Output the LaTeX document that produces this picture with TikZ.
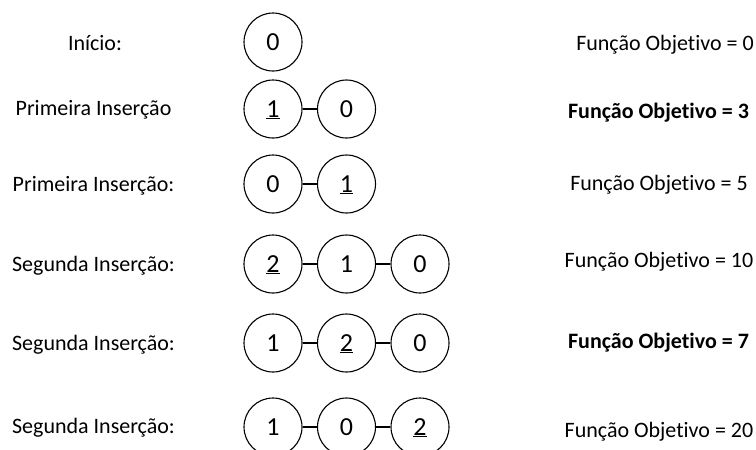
\documentclass[tikz,border=0pt]{standalone}
\usepackage{fontspec}
\setmainfont[Ligatures=NoCommon]{Carlito}
\begin{document}
\begin{tikzpicture}[x=1pt,y=-1pt,
  lbl/.style={font=\fontsize{22}{26}\selectfont, anchor=base, inner sep=0pt},
  blbl/.style={lbl, font=\fontsize{22}{26}\selectfont\bfseries},
  cnode/.style={circle, draw, line width=1.1pt, minimum size=58pt, inner sep=0pt,
    font=\fontsize{26}{30}\selectfont, text height=16.5pt, text depth=0pt},
  link/.style={line width=1.1pt}]
\useasboundingbox (0,0) rectangle (756,450);
\clip (0,0) rectangle (756,450);
% row 1
\node[lbl] (l1) at (95,50) {Início:};
\node[cnode] (a1) at (273,42) {0};
\node[lbl] (r1) at (665,50) {Função Objetivo = 0};
% row 2
\node[lbl] (l2) at (93.5,115) {Primeira Inserção};
\node[cnode] (a2) at (273,109) {\underline{1}};
\node[cnode] (b2) at (346.5,109) {0};
\node[blbl] (r2) at (658.5,118) {Função Objetivo = 3};
\draw[link] (a2) -- (b2);
% row 3
\node[lbl] (l3) at (93.5,191) {Primeira Inserção:};
\node[cnode] (a3) at (273,184) {0};
\node[cnode] (b3) at (346.5,184) {\underline{1}};
\node[lbl] (r3) at (659,190) {Função Objetivo = 5};
\draw[link] (a3) -- (b3);
% row 4
\node[lbl] (l4) at (93.5,271) {Segunda Inserção:};
\node[cnode] (a4) at (273,264) {\underline{2}};
\node[cnode] (b4) at (346.5,264) {1};
\node[cnode] (c4) at (420,264) {0};
\node[lbl] (r4) at (659,267) {Função Objetivo = 10};
\draw[link] (a4) -- (b4);
\draw[link] (b4) -- (c4);
% row 5
\node[lbl] (l5) at (93.5,350) {Segunda Inserção:};
\node[cnode] (a5) at (273,343) {1};
\node[cnode] (b5) at (346.5,343) {\underline{2}};
\node[cnode] (c5) at (420,343) {0};
\node[blbl] (r5) at (658.5,348) {Função Objetivo = 7};
\draw[link] (a5) -- (b5);
\draw[link] (b5) -- (c5);
% row 6
\node[lbl] (l6) at (93.5,433) {Segunda Inserção:};
\node[cnode] (a6) at (273,427) {1};
\node[cnode] (b6) at (346.5,427) {0};
\node[cnode] (c6) at (420,427) {\underline{2}};
\node[lbl] (r6) at (659,437) {Função Objetivo = 20};
\draw[link] (a6) -- (b6);
\draw[link] (b6) -- (c6);
\end{tikzpicture}
\end{document}
